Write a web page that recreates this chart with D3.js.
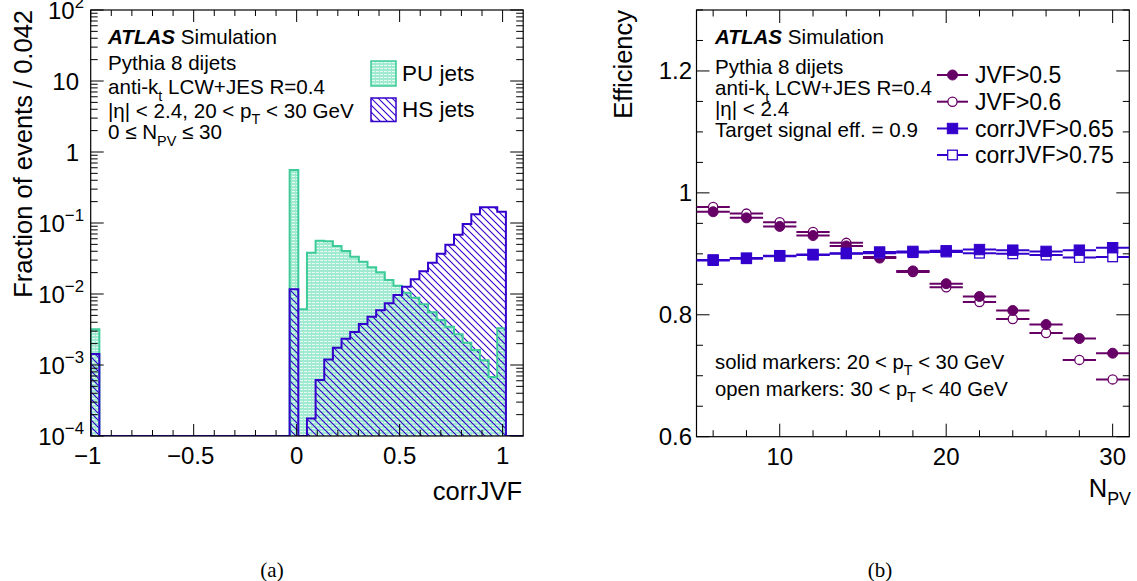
<!DOCTYPE html>
<html><head><meta charset="utf-8">
<script src="https://cdn.jsdelivr.net/npm/d3@7"></script>
<style>
body{margin:0;background:#fff}
svg{display:block}
text{font-family:"Liberation Sans",Arial,Helvetica,sans-serif;fill:#000}
</style>
</head><body>
<svg id="c" width="1137" height="581"></svg>
<script>
// ---------------- data (a): corrJVF distributions, 50 bins of width 0.042 starting at -1
const binStart = -1.0;
const binWidth = 0.042;
const puJets = [3.18e-3,
  0,0,0,0,0,0,0,0,0,0,0,0,0,0,0,0,0,0,0,0,0,0,
  0.557, 6.1e-3, 0.0382, 0.0564, 0.0552, 0.0474, 0.0404, 0.0335, 0.0285, 0.0238, 0.0202, 0.0157,
  0.0131, 0.0104, 8.87e-3, 7.16e-3, 5.52e-3, 4.31e-3, 3.46e-3, 2.70e-3, 2.06e-3, 1.63e-3, 1.17e-3,
  6.8e-4, 3.29e-3, 0, 0];
const hsJets = [1.43e-3,
  0,0,0,0,0,0,0,0,0,0,0,0,0,0,0,0,0,0,0,0,0,0,
  0.0117, 0, 1.77e-4, 6.15e-4, 1.20e-3, 1.75e-3, 2.34e-3, 2.92e-3, 3.78e-3, 4.79e-3, 5.89e-3, 7.40e-3,
  9.68e-3, 0.0127, 0.0161, 0.0209, 0.0276, 0.0370, 0.0494, 0.0684, 0.0968, 0.133, 0.166,
  0.166, 0.144, 0, 0];
const xTicksA = [-1, -0.5, 0, 0.5, 1];
const xTickLabelsA = ["\u22121", "\u22120.5", "0", "0.5", "1"];
const yDecadesA = [-4, -3, -2, -1, 0, 1, 2];

// ---------------- data (b): efficiency vs NPV
const npv = [6, 8, 10, 12, 14, 16, 18, 20, 22, 24, 26, 28, 30];
const jvf05  = [0.969, 0.959, 0.945, 0.930, 0.913, 0.893, 0.872, 0.851, 0.830, 0.807, 0.784, 0.761, 0.737];
const jvf06  = [0.977, 0.966, 0.952, 0.936, 0.918, 0.895, 0.870, 0.845, 0.821, 0.793, 0.770, 0.726, 0.694];
const cjvf065 = [0.890, 0.893, 0.897, 0.899, 0.901, 0.903, 0.904, 0.905, 0.907, 0.906, 0.904, 0.906, 0.910];
const cjvf075 = [0.889, 0.892, 0.896, 0.898, 0.900, 0.901, 0.902, 0.903, 0.901, 0.900, 0.898, 0.894, 0.895];
const xTicksB = [10, 20, 30];
const yTicksB = [0.6, 0.8, 1.0, 1.2];
const yTickLabelsB = ["0.6", "0.8", "1", "1.2"];

// ---------------- setup
const svg = d3.select("#c");
const cPU = "#3dcc99", cHS = "#3300cc";
const cJVF = "#660066", cCJVF = "#3300cc";

const defs = svg.append("defs");
const pPU = defs.append("pattern").attr("id","puPat").attr("patternUnits","userSpaceOnUse")
  .attr("width",4).attr("height",3);
pPU.append("rect").attr("width",4).attr("height",3).attr("fill","#9fead0");
pPU.append("rect").attr("y",2).attr("width",3).attr("height",1).attr("fill","#e6faf2");
const pHS = defs.append("pattern").attr("id","hsPat").attr("patternUnits","userSpaceOnUse")
  .attr("width",7).attr("height",7);
pHS.append("path").attr("d","M-1,-1 L8,8 M-1,6 L1,8 M6,-1 L8,1").attr("stroke",cHS).attr("stroke-width",1.1);

function rich(g, x, y, parts, size, anchor) {
  const t = g.append("text").attr("x", x).attr("y", y).attr("font-size", size)
    .attr("text-anchor", anchor || "start");
  let shift = 0;
  parts.forEach(p => {
    const [s, kind] = Array.isArray(p) ? p : [p, "n"];
    const ts = t.append("tspan").text(s);
    let target = 0, fs = size;
    if (kind === "sub") { target = size * 0.32; fs = size * 0.7; }
    else if (kind === "sup") { target = -size * 0.45; fs = size * 0.7; }
    else if (kind === "b") { ts.attr("font-weight","bold").attr("font-style","italic"); }
    ts.attr("font-size", fs);
    if (target !== shift) { ts.attr("dy", target - shift); shift = target; }
  });
  return t;
}

// ================= Panel (a)
const A = {l: 90.7, r: 523.2, t: 10, b: 436};
const xA = d3.scaleLinear().domain([-1, 1.1]).range([A.l, A.r]);
const yA = d3.scaleLog().domain([1e-4, 100]).range([A.b, A.t]);
const gA = svg.append("g");
defs.append("clipPath").attr("id","clipA").append("rect")
  .attr("x",A.l).attr("y",A.t).attr("width",A.r-A.l).attr("height",A.b-A.t);

function histPath(vals) {
  const pts = [[xA(binStart), A.b]];
  vals.forEach((v, i) => {
    const x0 = xA(binStart + i * binWidth), x1 = xA(binStart + (i + 1) * binWidth);
    const y = v > 1e-4 ? yA(v) : A.b;
    pts.push([x0, y], [x1, y]);
  });
  pts.push([xA(binStart + vals.length * binWidth), A.b]);
  return pts;
}
const line = d3.line();
const puPts = histPath(puJets), hsPts = histPath(hsJets);
const gH = gA.append("g").attr("clip-path","url(#clipA)");
gH.append("path").attr("d", line(puPts) + "Z").attr("fill","url(#puPat)").attr("stroke","none");
gH.append("path").attr("d", line(hsPts) + "Z").attr("fill","url(#hsPat)").attr("stroke","none");
gH.append("path").attr("d", line(puPts)).attr("fill","none").attr("stroke",cPU).attr("stroke-width",2);
gH.append("path").attr("d", line(hsPts)).attr("fill","none").attr("stroke",cHS).attr("stroke-width",2);

// frame
gA.append("rect").attr("x",A.l).attr("y",A.t).attr("width",A.r-A.l).attr("height",A.b-A.t)
  .attr("fill","none").attr("stroke","#000").attr("stroke-width",1.2);
// x ticks (bottom and top)
const xMinorA = d3.range(-10, 11).map(d => d / 10);
xMinorA.forEach(v => {
  const major = xTicksA.some(t => Math.abs(t - v) < 1e-9);
  const L = major ? 12 : 6;
  gA.append("line").attr("x1",xA(v)).attr("x2",xA(v)).attr("y1",A.b).attr("y2",A.b-L).attr("stroke","#000");
  gA.append("line").attr("x1",xA(v)).attr("x2",xA(v)).attr("y1",A.t).attr("y2",A.t+L).attr("stroke","#000");
});
xTicksA.forEach((v, i) => {
  gA.append("text").attr("x", xA(v) - (v < 0 ? 3 : 0)).attr("y", 464).attr("font-size", 24).attr("text-anchor","middle")
    .text(xTickLabelsA[i]);
});
// y ticks log
yDecadesA.forEach(d => {
  const base = Math.pow(10, d);
  [A.l, A.r].forEach((xx, side) => {
    const dir = side === 0 ? 1 : -1;
    gA.append("line").attr("x1",xx).attr("x2",xx + dir*13).attr("y1",yA(base)).attr("y2",yA(base)).attr("stroke","#000");
    if (d < 2) for (let k = 2; k <= 9; k++) {
      const y = yA(k * base);
      gA.append("line").attr("x1",xx).attr("x2",xx + dir*7).attr("y1",y).attr("y2",y).attr("stroke","#000");
    }
  });
  let parts;
  if (d === 0) parts = ["1"];
  else if (d === 1) parts = ["10"];
  else parts = ["10", [d < 0 ? "\u2212" + (-d) : String(d), "sup"]];
  const lx = (d === 0 || d === 1) ? 79 : 84;
  rich(gA, lx, yA(base) + 8.5, parts, 24, "end");
});
// axis titles
gA.append("text").attr("transform","translate(32,10) rotate(-90)").attr("text-anchor","end")
  .attr("font-size",25.5).text("Fraction of events / 0.042");
gA.append("text").attr("x",522).attr("y",500).attr("text-anchor","end").attr("font-size",25.5).text("corrJVF");
// annotations
const ANN = 20.6;
rich(gA, 108, 43.5, [["ATLAS","b"], " Simulation"], ANN);
rich(gA, 108, 70, ["Pythia 8 dijets"], ANN);
rich(gA, 108, 94, ["anti-k", ["t","sub"], [" LCW+JES R=0.4","n"]], ANN);
rich(gA, 108, 117.5, ["|\u03b7| < 2.4, 20 < p", ["T","sub"], [" < 30 GeV","n"]], ANN);
rich(gA, 108, 139, ["0 \u2264 N", ["PV","sub"], [" \u2264 30","n"]], ANN);
// legend
gA.append("rect").attr("x",371).attr("y",61).attr("width",25).attr("height",25)
  .attr("fill","url(#puPat)").attr("stroke",cPU).attr("stroke-width",1.5);
gA.append("rect").attr("x",371).attr("y",98).attr("width",25).attr("height",23.5)
  .attr("fill","url(#hsPat)").attr("stroke",cHS).attr("stroke-width",1.5);
gA.append("text").attr("x",402).attr("y",81).attr("font-size",22.5).text("PU jets");
gA.append("text").attr("x",402).attr("y",117).attr("font-size",22.5).text("HS jets");
svg.append("text").attr("x",272).attr("y",577).attr("text-anchor","middle").attr("font-size",21)
  .style("font-family",'"Liberation Serif","Times New Roman",serif').text("(a)");

// ================= Panel (b)
const B = {l: 696.5, r: 1129.3, t: 10, b: 436.7};
const xB = d3.scaleLinear().domain([5, 31]).range([B.l, B.r]);
const yB = d3.scaleLinear().domain([0.6, 1.3]).range([B.b, B.t]);
const gB = svg.append("g");
defs.append("clipPath").attr("id","clipB").append("rect")
  .attr("x",B.l).attr("y",B.t).attr("width",B.r-B.l).attr("height",B.b-B.t);
gB.append("rect").attr("x",B.l).attr("y",B.t).attr("width",B.r-B.l).attr("height",B.b-B.t)
  .attr("fill","none").attr("stroke","#000").attr("stroke-width",1.2);
d3.range(6, 31, 2).forEach(v => {
  const L = xTicksB.includes(v) ? 13 : 6.5;
  gB.append("line").attr("x1",xB(v)).attr("x2",xB(v)).attr("y1",B.b).attr("y2",B.b-L).attr("stroke","#000");
  gB.append("line").attr("x1",xB(v)).attr("x2",xB(v)).attr("y1",B.t).attr("y2",B.t+L).attr("stroke","#000");
});
xTicksB.forEach(v => gB.append("text").attr("x",xB(v)).attr("y",465).attr("text-anchor","middle")
  .attr("font-size",24).text(v));
d3.range(0, 15).map(i => 0.6 + i * 0.05).forEach(v => {
  const major = yTicksB.some(t => Math.abs(t - v) < 1e-6);
  const L = major ? 13 : 6.5;
  gB.append("line").attr("x1",B.l).attr("x2",B.l+L).attr("y1",yB(v)).attr("y2",yB(v)).attr("stroke","#000");
  gB.append("line").attr("x1",B.r).attr("x2",B.r-L).attr("y1",yB(v)).attr("y2",yB(v)).attr("stroke","#000");
});
yTicksB.forEach((v, i) => gB.append("text").attr("x",692).attr("y",yB(v)+8.5).attr("text-anchor","end")
  .attr("font-size",24).text(yTickLabelsB[i]));
gB.append("text").attr("transform","translate(632,10) rotate(-90)").attr("text-anchor","end")
  .attr("font-size",25.5).text("Efficiency");
rich(gB, 1131, 497, ["N", ["PV","sub"]], 25.5, "end");

const series = [
  {vals: jvf06, color: cJVF, shape: "circle", open: true, name: "JVF>0.6"},
  {vals: jvf05, color: cJVF, shape: "circle", open: false, name: "JVF>0.5"},
  {vals: cjvf075, color: cCJVF, shape: "square", open: true, name: "corrJVF>0.75"},
  {vals: cjvf065, color: cCJVF, shape: "square", open: false, name: "corrJVF>0.65"}
];
function marker(g, x, y, s) {
  if (s.shape === "circle") {
    g.append("circle").attr("cx",x).attr("cy",y).attr("r", s.open ? 4.6 : 5)
      .attr("fill", s.open ? "#fff" : s.color).attr("stroke", s.color).attr("stroke-width", s.open ? 1.3 : 1);
  } else {
    const h = s.open ? 4.8 : 5.2;
    g.append("rect").attr("x",x-h).attr("y",y-h).attr("width",2*h).attr("height",2*h)
      .attr("fill", s.open ? "#fff" : s.color).attr("stroke", s.color).attr("stroke-width", s.open ? 1.3 : 1);
  }
}
const gP = gB.append("g").attr("clip-path","url(#clipB)");
series.forEach(s => {
  s.vals.forEach((v, i) => {
    gP.append("line").attr("x1",xB(npv[i]-1)).attr("x2",xB(npv[i]+1)).attr("y1",yB(v)).attr("y2",yB(v))
      .attr("stroke", s.color).attr("stroke-width",2);
  });
});
series.forEach(s => s.vals.forEach((v, i) => marker(gP, xB(npv[i]), yB(v), s)));

// annotations (b)
rich(gB, 715, 43.5, [["ATLAS","b"], " Simulation"], ANN);
rich(gB, 715, 74, ["Pythia 8 dijets"], ANN);
rich(gB, 715, 95, ["anti-k", ["t","sub"], [" LCW+JES R=0.4","n"]], ANN);
rich(gB, 715, 116, ["|\u03b7| < 2.4"], ANN);
rich(gB, 715, 137, ["Target signal eff. = 0.9"], ANN);
rich(gB, 715, 369, ["solid markers: 20 < p", ["T","sub"], [" < 30 GeV","n"]], 20.3);
rich(gB, 715, 396, ["open markers: 30 < p", ["T","sub"], [" < 40 GeV","n"]], 20.3);
// legend (b)
const legOrder = [series[1], series[0], series[3], series[2]];
const legY = [75, 101.7, 128.5, 155];
legOrder.forEach((s, i) => {
  gB.append("line").attr("x1",937).attr("x2",968).attr("y1",legY[i]).attr("y2",legY[i])
    .attr("stroke", s.color).attr("stroke-width",2);
  marker(gB, 952.5, legY[i], s);
  gB.append("text").attr("x",975).attr("y",legY[i]+8).attr("font-size",23).text(s.name);
});
svg.append("text").attr("x",880).attr("y",577).attr("text-anchor","middle").attr("font-size",21)
  .style("font-family",'"Liberation Serif","Times New Roman",serif').text("(b)");
</script>
</body></html>
